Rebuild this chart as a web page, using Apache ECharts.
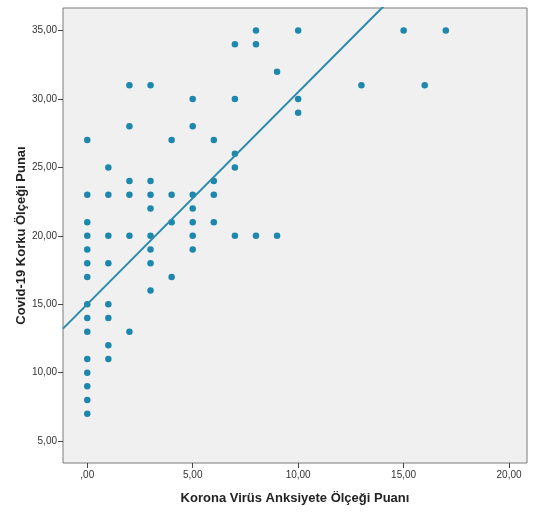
<!DOCTYPE html>
<html>
<head>
<meta charset="utf-8">
<script src="https://cdn.jsdelivr.net/npm/echarts@6/dist/echarts.min.js"></script>
<style>html,body{margin:0;padding:0;background:#fff}#c{width:533px;height:514px}</style>
</head>
<body>
<div id="c"></div>
<script>
// Korona Virüs Anksiyete Ölçeği Puanı (x) vs Covid-19 Korku Ölçeği Puanı (y)
const anxiety = [
  0,0,0,0,0,0,0,0,0,0,0,0,0,0,0,
  1,1,1,1,1,1,1,1,
  2,2,2,2,2,2,
  3,3,3,3,3,3,3,3,
  4,4,4,4,
  5,5,5,5,5,5,5,
  6,6,6,6,
  7,7,7,7,7,
  8,8,8,
  9,9,
  10,10,10,
  13,15,16,17
];
const fear = [
  27,23,21,20,19,18,17,15,14,13,11,10,9,8,7,
  25,23,20,18,15,14,12,11,
  31,28,24,23,20,13,
  31,24,23,22,20,19,18,16,
  27,23,21,17,
  30,28,23,22,21,20,19,
  27,24,23,21,
  34,30,26,25,20,
  35,34,20,
  32,20,
  35,30,29,
  31,35,31,35
];
const xTicks = [0, 5, 10, 15, 20];
const yTicks = [5, 10, 15, 20, 25, 30, 35];
const fitIntercept = 15.0;
const fitSlope = 1.55;

const xMin = -1.15, xMax = 20.85, yMin = 3.4, yMax = 36.65;
const points = anxiety.map((x, i) => [x, fear[i]]);
const fitLine = [[xMin, fitIntercept + fitSlope * xMin], [xMax, fitIntercept + fitSlope * xMax]];
const fmt = v => {
  const s = v.toFixed(2).replace('.', ',');
  return s.startsWith('0,') ? s.slice(1) : s;
};

const chart = echarts.init(document.getElementById('c'));
chart.setOption({
  animation: false,
  grid: {
    left: 63, top: 8, right: 6, bottom: 51,
    show: true, backgroundColor: '#f0f0f0', borderColor: '#7a7a7a', borderWidth: 1
  },
  xAxis: {
    type: 'value', min: xMin, max: xMax,
    name: 'Korona Virüs Anksiyete Ölçeği Puanı', nameLocation: 'middle', nameGap: 29,
    nameMoveOverlap: false,
    nameTextStyle: { fontFamily: 'Liberation Sans', fontSize: 13, fontWeight: 'bold', color: '#222' },
    axisLine: { show: false, onZero: false },
    axisTick: { show: true, customValues: xTicks, length: 5, lineStyle: { color: '#444' } },
    axisLabel: { customValues: xTicks, formatter: fmt, fontFamily: 'Liberation Sans', fontSize: 10, color: '#333', margin: 7 },
    splitLine: { show: false }
  },
  yAxis: {
    type: 'value', min: yMin, max: yMax,
    name: 'Covid-19 Korku Ölçeği Punaı', nameLocation: 'middle', nameGap: 35,
    nameMoveOverlap: false,
    nameTextStyle: { fontFamily: 'Liberation Sans', fontSize: 13, fontWeight: 'bold', color: '#222' },
    axisLine: { show: false, onZero: false },
    axisTick: { show: true, customValues: yTicks, length: 5, lineStyle: { color: '#444' } },
    axisLabel: { customValues: yTicks, formatter: fmt, fontFamily: 'Liberation Sans', fontSize: 10, color: '#333', margin: 6 },
    splitLine: { show: false }
  },
  series: [
    {
      type: 'scatter', data: points, symbolSize: 6.5,
      itemStyle: { color: '#1d87ad', opacity: 1 }
    },
    {
      type: 'line', data: fitLine, showSymbol: false, clip: true,
      lineStyle: { color: '#2a8aab', width: 2 }
    }
  ]
});
</script>
</body>
</html>
